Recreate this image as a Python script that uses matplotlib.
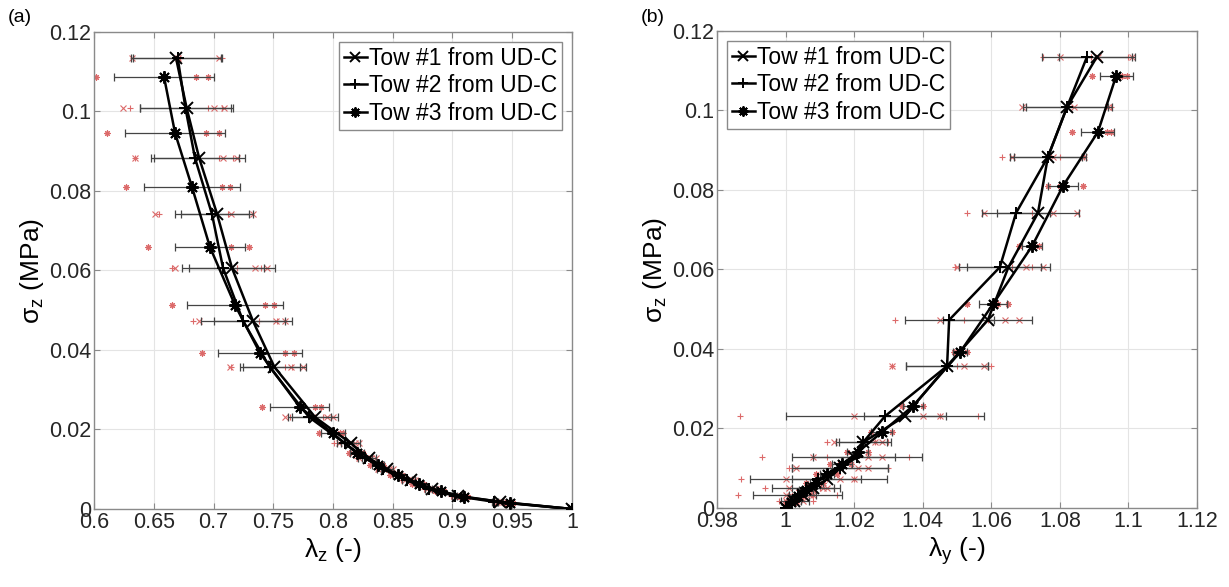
import numpy as np
import matplotlib.pyplot as plt
from matplotlib.ticker import FuncFormatter

plt.rcParams['font.family'] = ['Liberation Sans', 'DejaVu Sans']
plt.rcParams['mathtext.fontset'] = 'custom'
plt.rcParams['mathtext.rm'] = 'Liberation Sans'

# stress levels (MPa)
sig_t12 = [0.1135, 0.1009, 0.0883, 0.0742, 0.0606, 0.0473, 0.0357, 0.0231,
           0.0165, 0.0128, 0.0100, 0.0072, 0.0050, 0.0033, 0.0018, 0.0]
sig_t3 = [0.1087, 0.0946, 0.0810, 0.0659, 0.0513, 0.0392, 0.0257, 0.0190,
          0.0140, 0.0110, 0.0085, 0.0062, 0.0045, 0.0030, 0.0015, 0.0]

labels = ['Tow #1 from UD-C', 'Tow #2 from UD-C', 'Tow #3 from UD-C']

# ---- (a) lambda_z : mean, std, single samples
lz_t1 = [0.6686, 0.6775, 0.6880, 0.7030, 0.7155, 0.7330, 0.7510, 0.7850,
         0.8150, 0.8300, 0.8450, 0.8650, 0.8830, 0.9050, 0.9400, 1.0]
lz_t2 = [0.6700, 0.6765, 0.6845, 0.6987, 0.7080, 0.7247, 0.7470, 0.7800,
         0.8100, 0.8270, 0.8420, 0.8620, 0.8800, 0.9020, 0.9350, 1.0]
lz_t3 = [0.6586, 0.6678, 0.6820, 0.6970, 0.7180, 0.7390, 0.7720, 0.8000,
         0.8200, 0.8380, 0.8540, 0.8720, 0.8900, 0.9100, 0.9480, 1.0]
lz_err_t1 = [0.038, 0.039, 0.038, 0.030, 0.036, 0.033, 0.026, 0.019,
             0.008, 0.006, 0.005, 0.004, 0.003, 0.003, 0.002, 0.0]
lz_err_t2 = [0.037, 0.038, 0.037, 0.031, 0.034, 0.035, 0.025, 0.018,
             0.007, 0.006, 0.005, 0.004, 0.003, 0.002, 0.002, 0.0]
lz_err_t3 = [0.042, 0.042, 0.040, 0.029, 0.040, 0.035, 0.025, 0.010,
             0.006, 0.005, 0.004, 0.003, 0.003, 0.002, 0.002, 0.0]
lz_smp_t1 = [[0.632, 0.670, 0.705], [0.624, 0.700, 0.709], [0.634, 0.708, 0.720],
             [0.651, 0.715, 0.733], [0.668, 0.735, 0.745], [0.688, 0.752, 0.760],
             [0.714, 0.765, 0.775], [0.760, 0.795, 0.800], [0.805, 0.818, 0.822],
             [0.822, 0.832, 0.836], [0.838, 0.847, 0.850], [0.860, 0.867, 0.869],
             [0.879, 0.885, 0.886], [0.901, 0.906, 0.908], [0.937, 0.941, 0.943],
             [1.0, 1.0, 1.0]]
lz_smp_t2 = [[0.633, 0.672, 0.707], [0.630, 0.695, 0.707], [0.634, 0.705, 0.716],
             [0.654, 0.712, 0.730], [0.665, 0.720, 0.740], [0.683, 0.738, 0.753],
             [0.715, 0.760, 0.766], [0.764, 0.785, 0.792], [0.801, 0.813, 0.816],
             [0.820, 0.829, 0.832], [0.836, 0.844, 0.846], [0.857, 0.864, 0.865],
             [0.876, 0.882, 0.883], [0.899, 0.903, 0.905], [0.933, 0.936, 0.937],
             [1.0, 1.0, 1.0]]
lz_smp_t3 = [[0.602, 0.685, 0.695], [0.611, 0.694, 0.705], [0.627, 0.707, 0.714],
             [0.645, 0.715, 0.730], [0.665, 0.743, 0.751], [0.690, 0.760, 0.767],
             [0.741, 0.785, 0.790], [0.788, 0.806, 0.808], [0.813, 0.823, 0.825],
             [0.831, 0.840, 0.842], [0.848, 0.856, 0.858], [0.866, 0.874, 0.876],
             [0.885, 0.892, 0.893], [0.906, 0.912, 0.913], [0.944, 0.949, 0.951],
             [1.0, 1.0, 1.0]]

# ---- (b) lambda_y
ly_t1 = [1.0908, 1.0821, 1.0765, 1.0736, 1.0650, 1.0590, 1.0471, 1.0348,
         1.0226, 1.0200, 1.0160, 1.0120, 1.0080, 1.0050, 1.0025, 1.0]
ly_t2 = [1.0879, 1.0821, 1.0765, 1.0672, 1.0625, 1.0477, 1.0471, 1.0290,
         1.0226, 1.0208, 1.0159, 1.0095, 1.0060, 1.0036, 1.0027, 1.0]
ly_t3 = [1.0964, 1.0911, 1.0809, 1.0719, 1.0605, 1.0509, 1.0372, 1.0280,
         1.0210, 1.0165, 1.0120, 1.0090, 1.0060, 1.0035, 1.0015, 1.0]
ly_err_t1 = [0.011, 0.013, 0.011, 0.012, 0.012, 0.013, 0.012, 0.012,
             0.007, 0.012, 0.014, 0.010, 0.006, 0.004, 0.002, 0.0]
ly_err_t2 = [0.013, 0.012, 0.010, 0.010, 0.012, 0.013, 0.012, 0.029,
             0.008, 0.019, 0.014, 0.020, 0.010, 0.013, 0.004, 0.0]
ly_err_t3 = [0.0048, 0.0048, 0.0044, 0.003, 0.004, 0.002, 0.003, 0.003,
             0.003, 0.003, 0.002, 0.002, 0.002, 0.001, 0.001, 0.0]
ly_smp_t1 = [[1.080, 1.091, 1.101], [1.069, 1.084, 1.094], [1.066, 1.078, 1.087],
             [1.058, 1.078, 1.085], [1.050, 1.070, 1.075], [1.045, 1.064, 1.068],
             [1.031, 1.052, 1.058], [1.020, 1.040, 1.045], [1.014, 1.026, 1.028],
             [1.008, 1.024, 1.028], [1.003, 1.021, 1.024], [1.000, 1.016, 1.020],
             [1.001, 1.011, 1.012], [1.000, 1.007, 1.008], [1.000, 1.003, 1.005],
             [1.0, 1.0, 1.0]]
ly_smp_t2 = [[1.075, 1.089, 1.100], [1.070, 1.082, 1.095], [1.063, 1.080, 1.087],
             [1.053, 1.072, 1.077], [1.0494, 1.066, 1.072], [1.032, 1.052, 1.059],
             [1.031, 1.050, 1.060], [0.9867, 1.045, 1.056], [1.012, 1.026, 1.030],
             [0.9931, 1.012, 1.036], [1.001, 1.016, 1.030], [0.987, 1.012, 1.020],
             [0.994, 1.010, 1.014], [0.986, 1.008, 1.015], [0.998, 1.003, 1.008],
             [1.0, 1.0, 1.0]]
ly_smp_t3 = [[1.0894, 1.0981, 1.0996], [1.0835, 1.0937, 1.0950], [1.0765, 1.0800, 1.0867],
             [1.068, 1.072, 1.074], [1.053, 1.062, 1.065], [1.049, 1.051, 1.053],
             [1.034, 1.037, 1.040], [1.025, 1.028, 1.031], [1.018, 1.021, 1.024],
             [1.013, 1.016, 1.019], [1.009, 1.012, 1.015], [1.006, 1.009, 1.011],
             [1.004, 1.006, 1.008], [1.002, 1.0035, 1.005], [1.000, 1.0015, 1.003],
             [1.0, 1.0, 1.0]]

markers = ['x', '+', (8, 2, 0)]
red = '#dc6a6a'
fmt = FuncFormatter(lambda v, p: '%g' % round(v, 4))


def draw(ax, means, errs, smps, sigs):
    for m, e, s, sg, mk in zip(means, errs, smps, sigs, markers):
        s = np.array(s)
        yy = np.repeat(np.array(sg)[:, None], s.shape[1], axis=1)
        ax.plot(s.ravel(), yy.ravel(), ls='none', marker=mk, color=red,
                ms=4.5, mew=0.8, zorder=2)
        ax.errorbar(m, sg, xerr=e, fmt='none', ecolor='#444444', elinewidth=0.9,
                    capsize=3, capthick=0.9, zorder=3)
    for m, sg, mk, lb in zip(means, sigs, markers, labels):
        ax.plot(m, sg, '-', color='k', marker=mk, ms=9, mew=1.4, lw=1.8,
                label=lb, zorder=4)


fig = plt.figure(figsize=(12.29, 5.87), dpi=100)
ax1 = fig.add_axes([0.0765, 0.1329, 0.3889, 0.8126])
ax2 = fig.add_axes([0.5834, 0.1346, 0.3906, 0.8126])

draw(ax1, [lz_t1, lz_t2, lz_t3], [lz_err_t1, lz_err_t2, lz_err_t3],
     [lz_smp_t1, lz_smp_t2, lz_smp_t3], [sig_t12, sig_t12, sig_t3])
draw(ax2, [ly_t1, ly_t2, ly_t3], [ly_err_t1, ly_err_t2, ly_err_t3],
     [ly_smp_t1, ly_smp_t2, ly_smp_t3], [sig_t12, sig_t12, sig_t3])

ax1.set_xlim(0.6, 1.0)
ax1.set_xticks(np.arange(0.6, 1.001, 0.05))
ax2.set_xlim(0.98, 1.12)
ax2.set_xticks(np.arange(0.98, 1.1201, 0.02))

for ax in (ax1, ax2):
    ax.set_ylim(0, 0.12)
    ax.set_yticks(np.arange(0, 0.1201, 0.02))
    ax.xaxis.set_major_formatter(fmt)
    ax.yaxis.set_major_formatter(fmt)
    ax.grid(True, color='#e4e4e4', lw=0.8)
    ax.set_axisbelow(True)
    ax.tick_params(direction='in', top=True, right=True, labelsize=15.5,
                   colors='#8a8a8a', labelcolor='#262626', length=4, pad=2)
    for sp in ax.spines.values():
        sp.set_color('#8a8a8a')
        sp.set_linewidth(1.0)
    ax.set_ylabel('σ$_\\mathregular{z}$ (MPa)', fontsize=19, labelpad=2)

ax1.set_xlabel('λ$_\\mathregular{z}$ (-)', fontsize=19, labelpad=2)
ax2.set_xlabel('λ$_\\mathregular{y}$ (-)', fontsize=19, labelpad=2)

for ax, loc in ((ax1, 'upper right'), (ax2, 'upper left')):
    lg = ax.legend(loc=loc, fontsize=16.5, handlelength=1.0, handletextpad=0.1,
                   labelspacing=0.2, borderpad=0.2, borderaxespad=0.45,
                   fancybox=False, framealpha=1, edgecolor='#8a8a8a',
                   markerscale=0.8)
    lg.get_frame().set_linewidth(1.0)

fig.text(0.006, 0.962, '(a)', fontsize=14)
fig.text(0.521, 0.962, '(b)', fontsize=14)

fig.savefig('out.png', dpi=100)
